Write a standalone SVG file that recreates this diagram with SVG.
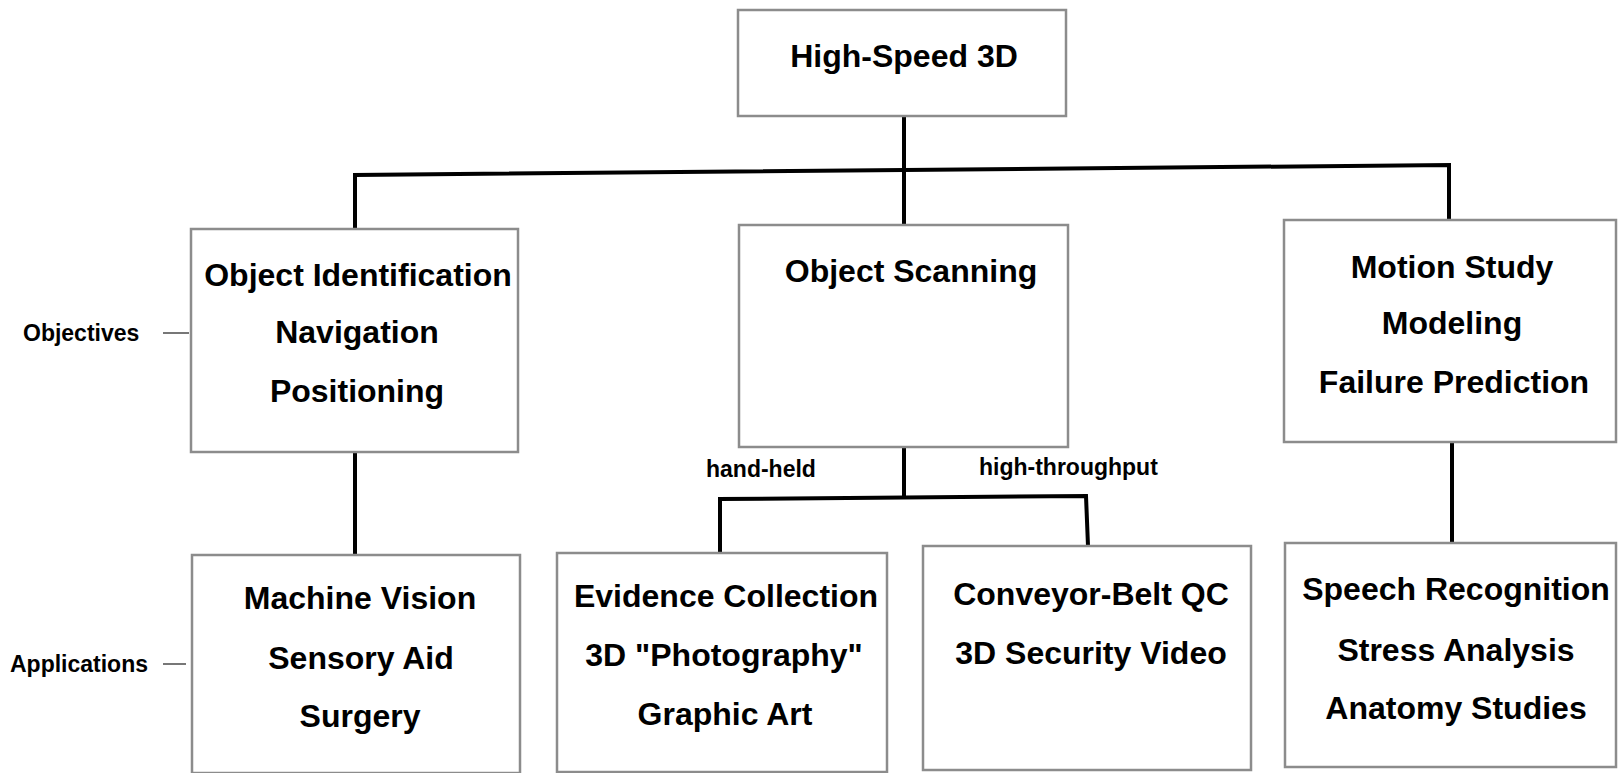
<svg xmlns="http://www.w3.org/2000/svg" width="1621" height="773" viewBox="0 0 1621 773">
<style>
.box{fill:#fff;stroke:#8c8c8c;stroke-width:2.5}
.t{font-family:"Liberation Sans",Arial,sans-serif;font-weight:bold;font-size:32px;fill:#000;text-anchor:middle}
.s{font-family:"Liberation Sans",Arial,sans-serif;font-weight:bold;font-size:23px;fill:#000}
.c{fill:none;stroke:#000;stroke-width:4;stroke-linejoin:miter}
.d{fill:none;stroke:#777;stroke-width:2}
</style>
<rect width="1621" height="773" fill="#fff"/>
<g id="connectors">
<path class="c" d="M904,116 L904,225"/>
<path class="c" d="M355,229 L355,175 L1449,165 L1449,220"/>
<path class="c" d="M355,452 L355,555"/>
<path class="c" d="M904,447 L904,498"/>
<path class="c" d="M720,553 L720,499 L1086,496 L1088,546"/>
<path class="c" d="M1452,442 L1452,543"/>
<path class="d" d="M163,333 L189,333"/>
<path class="d" d="M163,664 L186,664"/>
</g>
<g id="root">
<rect class="box" x="738" y="10" width="328" height="106"/>
<text class="t" x="904" y="67">High-Speed 3D</text>
</g>
<g id="obj-ident">
<rect class="box" x="191" y="229" width="327" height="223"/>
<text class="t" x="358" y="286">Object Identification</text>
<text class="t" x="357" y="343">Navigation</text>
<text class="t" x="357" y="402">Positioning</text>
</g>
<g id="obj-scan">
<rect class="box" x="739" y="225" width="329" height="222"/>
<text class="t" x="911" y="282">Object Scanning</text>
</g>
<g id="motion">
<rect class="box" x="1284" y="220" width="332" height="222"/>
<text class="t" x="1452" y="278">Motion Study</text>
<text class="t" x="1452" y="334">Modeling</text>
<text class="t" x="1454" y="393">Failure Prediction</text>
</g>
<g id="machine">
<rect class="box" x="192" y="555" width="328" height="218"/>
<text class="t" x="360" y="609">Machine Vision</text>
<text class="t" x="361" y="669">Sensory Aid</text>
<text class="t" x="360" y="727">Surgery</text>
</g>
<g id="evidence">
<rect class="box" x="557" y="553" width="330" height="219"/>
<text class="t" x="726" y="607">Evidence Collection</text>
<text class="t" x="724" y="666">3D "Photography"</text>
<text class="t" x="725" y="725">Graphic Art</text>
</g>
<g id="conveyor">
<rect class="box" x="923" y="546" width="328" height="224"/>
<text class="t" x="1091" y="605">Conveyor-Belt QC</text>
<text class="t" x="1091" y="664">3D Security Video</text>
</g>
<g id="speech">
<rect class="box" x="1285" y="543" width="331" height="224"/>
<text class="t" x="1456" y="600">Speech Recognition</text>
<text class="t" x="1456" y="661">Stress Analysis</text>
<text class="t" x="1456" y="719">Anatomy Studies</text>
</g>
<g id="labels">
<text class="s" x="23" y="341">Objectives</text>
<text class="s" x="10" y="672">Applications</text>
<text class="s" x="706" y="477">hand-held</text>
<text class="s" x="979" y="475">high-throughput</text>
</g>
</svg>
